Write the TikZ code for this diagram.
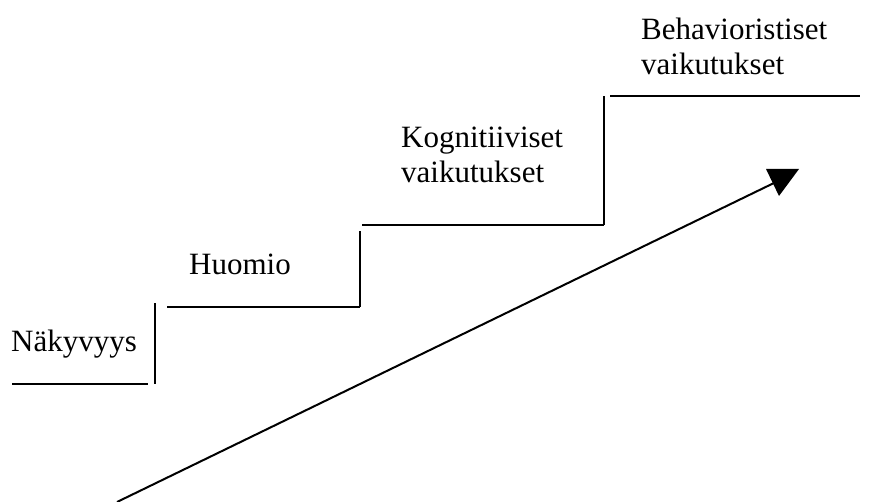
\documentclass[tikz,border=0pt]{standalone}
\usepackage{fontspec}
\setmainfont{Liberation Serif}
\begin{document}
\begin{tikzpicture}[x=1pt,y=-1pt,
  stair/.style={line width=2pt},
  lbl/.style={inner sep=0pt,anchor=base west,align=left,font=\fontsize{31}{35}\selectfont}]
\useasboundingbox (0,0) rectangle (870,502);
% step lines
\coordinate (h0a) at (12,384);  \coordinate (h0b) at (148,384);
\coordinate (v0a) at (155,384); \coordinate (v0b) at (155,303);
\coordinate (h1a) at (167,307); \coordinate (h1b) at (360,307);
\coordinate (v1a) at (360,307); \coordinate (v1b) at (360,231);
\coordinate (h2a) at (362,225); \coordinate (h2b) at (604,225);
\coordinate (v2a) at (604,225); \coordinate (v2b) at (604,96);
\coordinate (h3a) at (610,96);  \coordinate (h3b) at (860,96);
\draw[stair] (h0a) -- (h0b);
\draw[stair] (v0a) -- (v0b);
\draw[stair] (h1a) -- (h1b);
\draw[stair] (v1a) -- (v1b);
\draw[stair] (h2a) -- (h2b);
\draw[stair] (v2a) -- (v2b);
\draw[stair] (h3a) -- (h3b);
% labels (base anchor = baseline of last line)
\node[lbl] (nak) at (11,352) {Näkyvyys};
\node[lbl] (huo) at (189,275) {Huomio};
\node[lbl] (kog) at (401,183) {Kognitiiviset\\vaikutukset};
\node[lbl] (beh) at (641,75) {Behavioristiset\\vaikutukset};
% arrow
\coordinate (s) at (117,502);
\coordinate (e) at (776,182);
\draw[line width=2pt] (s) -- (e);
\fill (766,169) -- (799,169) -- (779,196) -- cycle;
\end{tikzpicture}
\end{document}
